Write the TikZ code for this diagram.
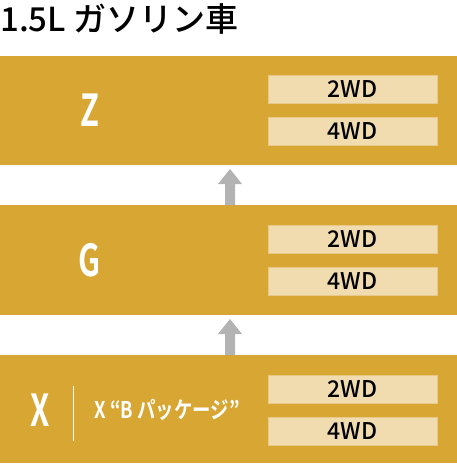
\documentclass[tikz,border=0pt]{standalone}
\usepackage{fontspec}
\setmainfont{Noto Sans CJK JP}
\newfontfamily\jpb{Noto Sans CJK JP Bold}
\newfontfamily\jpm{Noto Sans CJK JP Medium}
\definecolor{gold}{HTML}{D7A633}
\definecolor{pale}{HTML}{F0DCAE}
\definecolor{palebd}{HTML}{E8C98A}
\definecolor{arrowgray}{HTML}{B3B3B3}
\begin{document}
\begin{tikzpicture}[x=1pt,y=-1pt,
  grade/.style={fill=gold,draw=none},
  drive/.style={fill=pale,draw=palebd,line width=0.6pt,minimum width=169pt,minimum height=28pt,inner sep=0pt,font=\jpm\fontsize{23}{23}\selectfont,text=black},
  gradename/.style={text=white,font=\jpb\fontsize{44}{44}\selectfont,inner sep=0pt},
  upar/.style={fill=arrowgray,draw=none}]
\useasboundingbox (0,0) rectangle (457,466);
\node[anchor=west,inner sep=0pt,font=\jpm\fontsize{33}{33}\selectfont] (title) at (0,19) {1.5L ガソリン車};
% grade bands
\path[grade] (0,56) rectangle (457,165);
\path[grade] (0,205) rectangle (457,315);
\path[grade] (0,355) rectangle (457,463);
% labels
\node[gradename] (z) at (90,110) {\scalebox{0.7}[1]{Z}};
\node[gradename] (g) at (90,260) {\scalebox{0.7}[1]{G}};
\node[gradename] (x) at (40,410) {\scalebox{0.7}[1]{X}};
\draw[white,line width=0.8pt] (73,386) -- (73,441);
\node[text=white,inner sep=0pt,font=\jpb\fontsize{23}{23}\selectfont] (xb) at (167,410) {\scalebox{0.8}[1]{X “B パッケージ”}};
% drive boxes
\node[drive] (z2) at (352.5,89) {2WD};
\node[drive] (z4) at (352.5,131) {4WD};
\node[drive] (g2) at (352.5,239) {2WD};
\node[drive] (g4) at (352.5,281) {4WD};
\node[drive] (x2) at (352.5,389) {2WD};
\node[drive] (x4) at (352.5,431) {4WD};
% arrows
\path[upar] (225,205) -- (225,184) -- (218,184) -- (230,169) -- (242,184) -- (235,184) -- (235,205) -- cycle;
\path[upar] (225,355) -- (225,334) -- (218,334) -- (230,319) -- (242,334) -- (235,334) -- (235,355) -- cycle;
\end{tikzpicture}
\end{document}
